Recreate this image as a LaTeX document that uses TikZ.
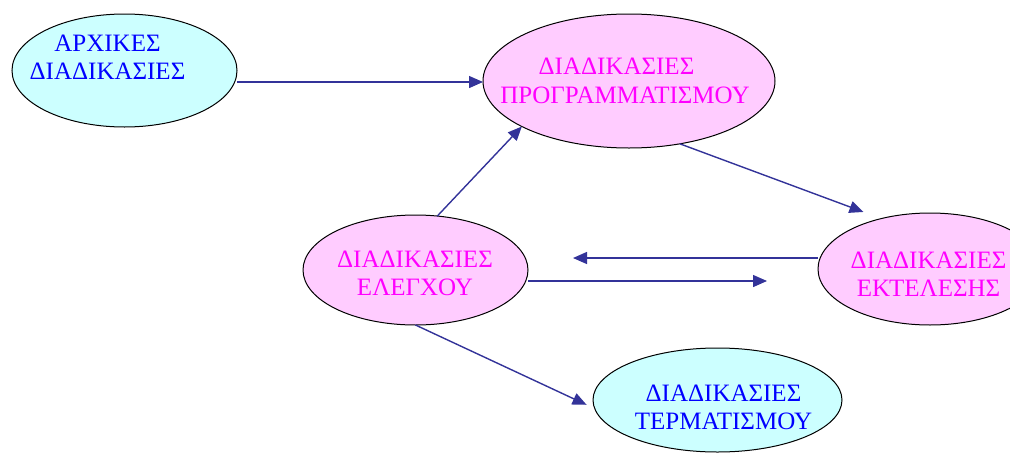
\documentclass[tikz,border=0pt]{standalone}
\usepackage{fontspec}
\setmainfont{Liberation Serif}
\usetikzlibrary{shapes.geometric,arrows.meta}
\definecolor{cyanfill}{HTML}{CCFFFF}
\definecolor{pinkfill}{HTML}{FFCCFF}
\definecolor{textblue}{HTML}{0000FF}
\definecolor{textmag}{HTML}{FF00FF}
\definecolor{arrowblue}{HTML}{333399}
\begin{document}
\begin{tikzpicture}[x=1pt,y=-1pt,
  ell/.style={ellipse, draw=black, line width=1pt, inner sep=0pt, outer sep=0pt},
  cyanell/.style={ell, fill=cyanfill},
  pinkell/.style={ell, fill=pinkfill},
  lbl/.style={align=center, inner sep=0pt, font=\fontsize{25}{28.5}\selectfont},
  bluetxt/.style={lbl, text=textblue},
  magtxt/.style={lbl, text=textmag},
  arr/.style={draw=arrowblue, line width=1.4pt, -{Triangle[length=14pt,width=12pt]}}
]
\clip (0,0) rectangle (1010,453);
% ellipses
\node[cyanell, minimum width=225pt, minimum height=113pt] (a) at (124.5,70.5) {};
\node[pinkell, minimum width=292pt, minimum height=134pt] (b) at (629,81) {};
\node[pinkell, minimum width=225pt, minimum height=110pt] (c) at (415.5,270) {};
\node[pinkell, minimum width=224pt, minimum height=112pt] (d) at (930,269) {};
\node[cyanell, minimum width=249pt, minimum height=104pt] (e) at (717.5,400) {};
% texts
\node[bluetxt] (ta) at (107.5,57) {ΑΡΧΙΚΕΣ\\ΔΙΑΔΙΚΑΣΙΕΣ};
\node[magtxt] (tb) at (625,81) {ΔΙΑΔΙΚΑΣΙΕΣ\hspace*{17pt}\\ΠΡΟΓΡΑΜΜΑΤΙΣΜΟΥ};
\node[magtxt] (tc) at (415,273.5) {ΔΙΑΔΙΚΑΣΙΕΣ\\ΕΛΕΓΧΟΥ};
\node[magtxt] (td) at (928.5,274) {ΔΙΑΔΙΚΑΣΙΕΣ\\ΕΚΤΕΛΕΣΗΣ};
\node[bluetxt] (te) at (723.5,407.5) {ΔΙΑΔΙΚΑΣΙΕΣ\\ΤΕΡΜΑΤΙΣΜΟΥ};
% connectors
\draw[arr] ([yshift=-11.5pt]a.east) -- ([yshift=-11.5pt]a.east -| b.west);
\draw[arr] (c.68) -- (b.203);
\draw[arr, shorten >=19pt] (b.-51) -- (d.134);
\draw[arr, shorten >=45pt] ([yshift=11pt]d.west) -- ([yshift=11pt]d.west -| c.east);
\draw[arr, shorten >=51pt] ([yshift=-11pt]c.east) -- ([yshift=-11pt]c.east -| d.west);
\draw[arr, shorten >=9pt] (c.south) -- (e.184);
\end{tikzpicture}
\end{document}
